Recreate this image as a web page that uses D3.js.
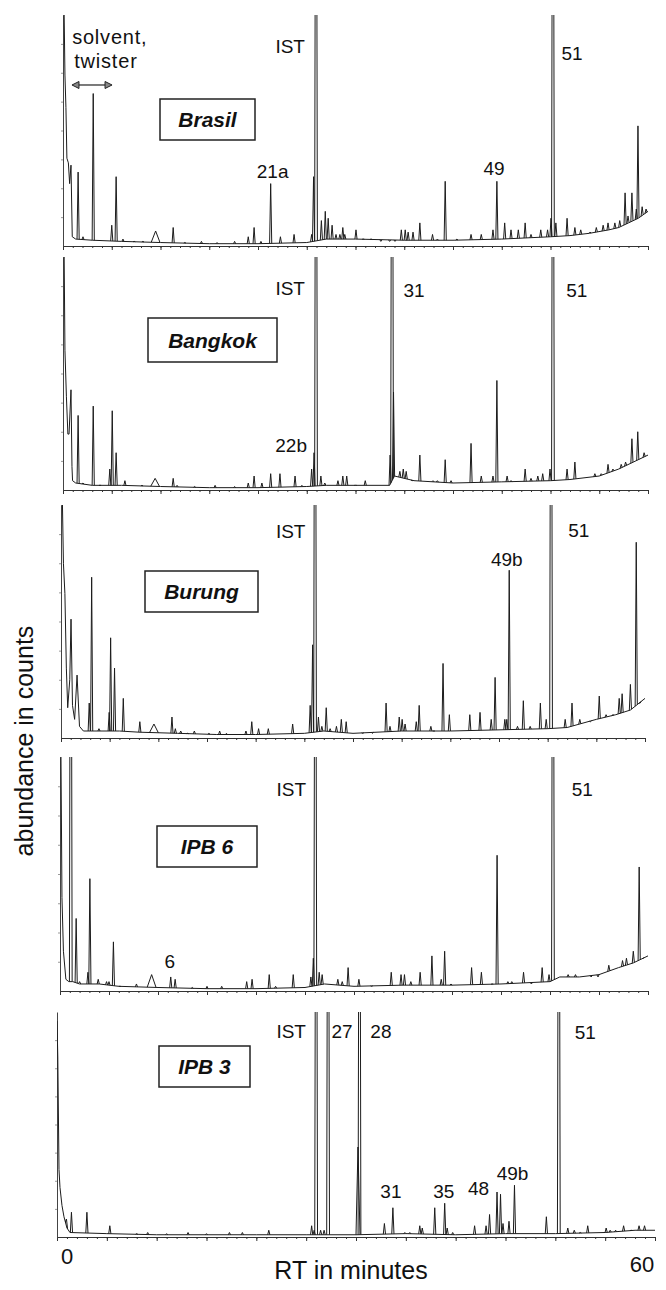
<!DOCTYPE html>
<html><head><meta charset="utf-8">
<script src="https://cdn.jsdelivr.net/npm/d3@7"></script>
<style>
body{margin:0;background:#fff}
svg{display:block}
text{font-family:"Liberation Sans",Arial,Helvetica,sans-serif;fill:#111}
</style>
</head><body>
<svg id="c" width="666" height="1290"></svg>
<script>
// ---------------- DATA ----------------
const sampleNames = ["Brasil", "Bangkok", "Burung", "IPB 6", "IPB 3"];
const rtDomain = [0, 60];           // RT in minutes
const rtTickLabels = ["0", "60"];

// trace outline points [rt, abundance %] (solvent region + baseline drift)
const brasilBase = [[0,100],[0.12,100],[0.2,74],[0.3,60],[0.4,38],[0.55,36],[0.68,27],[0.82,35],[0.95,4],[1.3,3],[3,2.5],[6,2],[10,1.5],[15,1],[20,1],[25,1.5],[27,3],[30,3],[35,2.5],[40,2.5],[45,3],[50,4],[52,4.5],[54,5.5],[56,7],[57,8],[58,10],[59,12],[60,15]];
// peaks [rt, abundance %, optional half width]
const brasilPeaks = [[1.55,32],[2.05,4],[3.1,66],[5.0,9],[5.45,30],[6.15,3],[7.3,2],[8.2,2],[9.5,6.5,0.45],[11.3,8],[12.5,1.5],[14.2,2],[15.8,1.5],[17.6,2],[19.0,4],[19.6,8],[20.3,2],[21.3,27],[22.3,4],[23.7,5],[25.5,5],[25.7,30],[25.95,300],[26.5,11],[26.9,15],[27.2,12],[27.6,9],[28.0,5],[28.4,5],[28.7,8],[28.9,5],[30.05,7],[30.8,3],[31.6,3],[32.6,2],[33.5,2],[34.05,2],[34.7,7],[35.1,7],[35.4,6],[35.9,6],[36.6,10],[37.9,5],[38.4,3],[39.2,28],[40.4,3],[41.85,5],[42.9,5],[44.1,7],[44.5,28],[45.3,10],[45.95,7],[46.7,7],[47.4,10],[48.0,5],[49.0,7],[49.7,7],[50.05,12],[50.25,300],[50.55,10],[51.7,12],[52.5,8],[53.1,7],[54.05,6],[54.7,8],[55.4,9],[55.9,10],[56.6,10],[57.1,11],[57.65,23],[57.95,13],[58.35,23],[58.8,16],[58.97,52],[59.4,17],[59.8,16]];
const brasilLabels = [["IST",23.3,83.5],["21a",21.5,29.4],["49",44.2,30.7],["51",52.2,80.5]];
const solventText = [["solvent,",4.8,87.4],["twister",4.4,77]];
const solventArrow = [0.92, 5.03, 69.7]; // rt from, rt to, level

const bangkokBase = [[0,100],[0.12,100],[0.2,60],[0.35,40],[0.5,24],[0.62,24],[0.82,43],[0.92,10],[0.98,4],[1.3,3],[3,2],[6,2],[10,1.5],[15,1],[20,1],[25,1.5],[27,2],[30,2],[33.5,2],[34,6],[36,4],[40,3],[45,3.5],[50,4],[52,4.5],[55,6],[57,9],[58.5,12],[60,15]];
const bangkokPeaks = [[1.55,32],[2.05,3],[3.1,36],[3.8,2],[4.8,9],[5.05,34],[5.45,16],[6.35,4],[8.1,2],[9.45,5,0.45],[11.3,5],[11.7,2],[13.5,1.5],[15.6,2],[17.6,1.5],[19.0,3],[19.6,6],[20.4,3],[21.3,7],[22.25,7],[23.8,6],[24.5,2],[25.5,9],[25.75,16],[25.95,300],[26.45,6],[26.85,3],[28.2,4],[28.7,6],[29.1,6],[30.0,2],[31.0,4],[33.55,15],[33.75,300],[33.9,42],[34.55,8],[34.9,9],[35.2,8],[35.8,4],[36.6,15],[37.95,4],[38.4,4],[39.2,13],[39.8,4],[41.85,20],[42.9,6],[44.1,6],[44.5,47],[45.55,6],[45.95,4],[47.4,9],[48.0,5],[48.7,6],[49.2,7],[49.95,9],[50.25,300],[51.7,9],[52.5,12],[54.55,7],[55.2,7],[55.9,11],[56.4,9],[57.25,11],[57.7,12],[58.35,22],[58.95,25],[59.6,16]];
const bangkokLabels = [["IST",23.3,83.7],["31",36.0,82.8],["51",52.7,82.8],["22b",23.4,16.3]];

const burungBase = [[0,100],[0.15,100],[0.25,75],[0.4,62],[0.55,30],[0.69,13],[0.9,25],[1.03,51],[1.18,14],[1.4,8],[1.65,27],[1.9,5],[2.3,3],[3,3],[6,3],[8,2.5],[12,2],[16,1.5],[20,1.5],[25,2],[27,3],[30,2],[35,3],[40,3],[45,3.5],[50,4],[52,4.5],[55,8],[57,10],[58.5,12],[60,17]];
const burungPeaks = [[2.9,15],[3.15,69],[3.9,4],[4.95,11],[5.1,43],[5.5,30],[6.4,17],[8.1,7],[9.55,6,0.45],[11.4,9],[11.75,4],[12.3,3],[13.0,2],[13.7,3],[15.2,2],[16.3,3],[17.0,2],[19.0,3],[19.6,7],[20.3,4],[21.3,4],[23.8,6],[25.6,14],[25.85,40],[26.1,300],[26.45,9],[26.8,5],[27.25,13],[27.65,4],[28.3,5],[28.8,8],[29.3,7],[31.0,2],[32.0,2],[33.4,15],[33.8,5],[34.75,9],[35.05,8],[35.35,6],[36.5,7],[36.8,14],[38.0,5],[38.3,3],[39.25,32],[39.9,10],[42.0,10],[43.05,11],[44.2,8],[44.6,26],[45.6,8],[45.8,8],[46.05,72],[46.9,5],[47.5,16],[48.2,5],[49.25,15],[49.85,8],[50.35,300],[51.8,8],[52.5,15],[53.3,8],[54.4,7],[55.3,18],[56.0,10],[56.7,10],[57.35,17],[57.65,19],[58.5,23],[59.1,84],[59.5,15]];
const burungLabels = [["IST",23.6,85.8],["49b",45.8,73.8],["51",53.2,86.3]];

const ipb6Base = [[0,100],[0.1,100],[0.2,40],[0.35,17],[0.6,5],[0.9,4],[1.3,4],[2,3],[4,3],[6,2],[10,1.5],[15,1],[20,1],[25,1.5],[27,3],[30,2],[35,2.5],[40,2.5],[45,3],[50,4],[51,6],[53,6],[55,7],[57,10],[58.5,12],[60,15]];
const ipb6Peaks = [[1.1,300],[1.65,31],[2.0,4],[2.85,8],[3.05,48],[3.9,5],[4.75,4],[5.0,4],[5.45,21],[6.1,2],[7.8,3],[9.35,7,0.45],[11.3,6],[11.75,5],[13.5,1.5],[15.0,2],[16.5,2],[19.05,4],[19.6,5],[21.35,7],[22.0,2],[23.8,7],[25.6,6],[25.85,14],[26.05,300],[26.45,8],[26.75,7],[28.35,5],[28.8,4],[29.4,10],[30.5,5],[31.8,2],[33.8,8],[34.8,7],[35.15,7],[35.8,4],[36.75,8],[37.95,15],[38.9,5],[39.25,17],[39.9,3],[42.0,10],[43.0,8],[44.1,3],[44.6,58],[45.7,4],[46.1,4],[47.3,8],[48.1,3],[49.2,10],[49.9,7],[50.3,300],[51.85,7],[52.6,7],[54.2,6],[54.9,6],[56.0,11],[57.4,13],[57.8,14],[58.5,17],[59.1,53],[59.5,14]];
const ipb6Labels = [["IST",23.6,83.3],["51",53.3,83.3],["6",11.2,9.8]];

const ipb3Base = [[0,96],[0.08,80],[0.2,30],[0.3,22],[0.5,14],[0.7,9],[1.0,4],[1.3,2],[5,1.5],[10,1],[20,1],[25,1],[30,1],[35,1.5],[40,1],[45,1.5],[50,1.5],[55,2],[58,3],[60,3]];
const ipb3Peaks = [[0.95,8],[1.45,11],[3.0,11],[5.3,5],[8.0,1.5],[9.1,2],[11.0,1.5],[13.15,2],[15.0,1.5],[17.3,2],[18.6,2],[21.25,3],[25.55,5],[25.8,3],[26.0,300],[26.45,3],[26.8,3],[27.2,300],[30.2,40,0.2],[30.35,300],[32.85,6],[33.7,13],[34.9,2],[35.4,2],[36.4,5],[36.65,4],[37.9,13],[38.9,15],[39.15,4],[39.7,2],[41.9,5],[43.05,5],[43.4,10],[44.15,20],[44.5,19],[44.75,6],[45.35,7],[45.9,23],[49.1,9],[50.35,300],[51.25,4],[51.9,3],[52.5,2],[53.25,5],[55.1,4],[55.5,3],[56.05,3],[56.85,5],[57.6,3],[58.4,5],[58.95,5]];
const ipb3Labels = [["IST",23.5,88.4],["27",28.6,88.4],["28",32.5,88.4],["51",53.0,88],["31",33.5,17.3],["35",38.8,17.3],["48",42.3,18.7],["49b",45.7,25.3]];

const xTitle = "RT in minutes";
const yTitle = "abundance in counts";

// ---------------- LAYOUT ----------------
const panels = [
  {name: sampleNames[0], base: brasilBase,  peaks: brasilPeaks,  labels: brasilLabels},
  {name: sampleNames[1], base: bangkokBase, peaks: bangkokPeaks, labels: bangkokLabels},
  {name: sampleNames[2], base: burungBase,  peaks: burungPeaks,  labels: burungLabels},
  {name: sampleNames[3], base: ipb6Base,    peaks: ipb6Peaks,    labels: ipb6Labels},
  {name: sampleNames[4], base: ipb3Base,    peaks: ipb3Peaks,    labels: ipb3Labels}
];
const layout = [
  {l:63, r:648, t:15,   b:246, box:[160,99,95,41]},
  {l:63, r:648, t:257,  b:490, box:[148,318,129,44]},
  {l:61, r:645, t:505,  b:738, box:[145,571,113,41]},
  {l:60, r:648, t:757,  b:991, box:[157,826,100,41]},
  {l:57, r:655, t:1012, b:1237, box:[159,1046,91,41]}
];

const svg = d3.select("#c");
svg.append("rect").attr("width",666).attr("height",1290).attr("fill","#fff");
let lastX;

panels.forEach((p, i) => {
  const L = layout[i];
  const x = d3.scaleLinear(rtDomain, [L.l, L.r]);
  const y = d3.scaleLinear([0, 100], [L.b, L.t]);
  const baseAt = d3.scaleLinear().domain(p.base.map(d => d[0])).range(p.base.map(d => d[1])).clamp(true);
  const g = svg.append("g");

  g.append("clipPath").attr("id", "clip" + i).append("rect")
    .attr("x", L.l).attr("y", L.t).attr("width", L.r - L.l + 2).attr("height", L.b - L.t + 1);

  // x axis minor + major ticks
  const ax = g.append("g").attr("transform", `translate(0,${L.b})`).style("color", "#333");
  ax.call(d3.axisBottom(x).tickValues(d3.range(0, 61, 1)).tickSize(2).tickSizeOuter(0).tickFormat(""));
  const ax2 = g.append("g").attr("transform", `translate(0,${L.b})`).style("color", "#333");
  ax2.call(d3.axisBottom(x).tickValues(d3.range(0, 61, 5)).tickSize(4).tickSizeOuter(0).tickFormat(""));
  ax2.select(".domain").remove();
  // y axis
  const ay = g.append("g").attr("transform", `translate(${L.l},0)`).style("color", "#444");
  ay.call(d3.axisLeft(y).tickValues(d3.range(12.5, 100, 12.5)).tickSize(2).tickSizeOuter(0).tickFormat(""));
  ay.selectAll(".tick line").attr("stroke", "#999");

  // trace
  const line = d3.line().x(d => x(d[0])).y(d => y(d[1]));
  const tr = g.append("g").attr("clip-path", `url(#clip${i})`)
    .attr("fill", "none").attr("stroke", "#1c1c1c").attr("stroke-width", 1).attr("stroke-linejoin", "miter");
  tr.append("path").attr("d", line(p.base));
  p.peaks.forEach(pk => {
    const w = pk[2] || (pk[1] > 100 ? 0.14 : 0.11);
    tr.append("path").attr("d", line([[pk[0] - w, baseAt(pk[0] - w)], [pk[0], pk[1]], [pk[0] + w, baseAt(pk[0] + w)]]));
  });

  // peak labels
  g.selectAll("text.lab").data(p.labels).join("text").attr("class", "lab")
    .attr("x", d => x(d[1])).attr("y", d => y(d[2]))
    .attr("text-anchor", "middle").style("font-size", "19px").text(d => d[0]);

  // name box
  const [bx, by, bw, bh] = L.box;
  g.append("rect").attr("x", bx).attr("y", by).attr("width", bw).attr("height", bh)
    .attr("fill", "#fff").attr("stroke", "#222").attr("stroke-width", 1.5);
  g.append("text").attr("x", bx + bw / 2).attr("y", by + bh / 2 + 7.5)
    .attr("text-anchor", "middle").style("font-size", "21px").style("font-weight", "bold").style("font-style", "italic")
    .text(p.name);

  if (i === 0) {
    g.selectAll("text.sol").data(solventText).join("text").attr("class", "sol")
      .attr("x", d => x(d[1])).attr("y", d => y(d[2]))
      .attr("text-anchor", "middle").style("font-size", "20px").style("letter-spacing", "0.8px").text(d => d[0]);
    const ya = y(solventArrow[2]), x1 = x(solventArrow[0]), x2 = x(solventArrow[1]);
    g.append("line").attr("x1", x1 + 6).attr("x2", x2 - 6).attr("y1", ya).attr("y2", ya).attr("stroke", "#222").attr("stroke-width", 1.2);
    g.append("path").attr("d", `M${x1},${ya}L${x1 + 7},${ya - 3.5}L${x1 + 7},${ya + 3.5}Z`).attr("fill", "#888").attr("stroke", "#222");
    g.append("path").attr("d", `M${x2},${ya}L${x2 - 7},${ya - 3.5}L${x2 - 7},${ya + 3.5}Z`).attr("fill", "#888").attr("stroke", "#222");
  }
  lastX = x;
});

// bottom axis labels
svg.append("text").attr("x", lastX(rtDomain[0]) + 10).attr("y", 1264).attr("text-anchor", "middle").style("font-size", "22px").text(rtTickLabels[0]);
svg.append("text").attr("x", lastX(rtDomain[1]) - 13).attr("y", 1272).attr("text-anchor", "middle").style("font-size", "22px").text(rtTickLabels[1]);
svg.append("text").attr("x", 351).attr("y", 1279).attr("text-anchor", "middle").style("font-size", "25px").text(xTitle);
svg.append("text").attr("transform", "translate(33,741) rotate(-90)").attr("text-anchor", "middle").style("font-size", "25px").text(yTitle);
</script>
</body></html>
